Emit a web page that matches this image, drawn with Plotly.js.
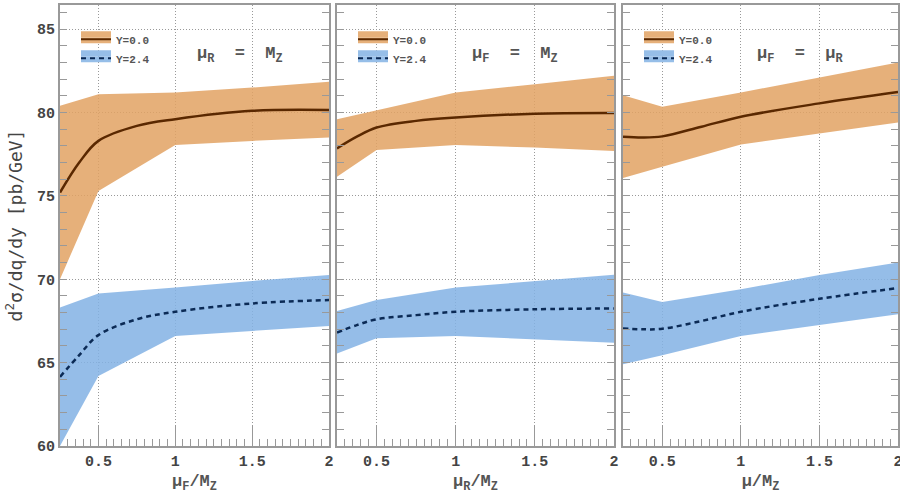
<!DOCTYPE html>
<html>
<head>
<meta charset="utf-8">
<script src="https://cdn.plot.ly/plotly-3.0.1.min.js"></script>
<style>
  html, body { margin: 0; padding: 0; background: #fff; }
  #chart { width: 900px; height: 494px; }
</style>
</head>
<body>
<div id="chart"></div>
<script>
// scale ratio nodes for the uncertainty bands and for the central curves
const bandX = [0.25, 0.5, 1, 1.5, 2]
const lineX = [0.25, 0.375, 0.5, 0.75, 1, 1.5, 2]

// panel 1: mu_R = M_Z, mu_F varied
const p1Y0Up = [80.4, 81.1, 81.2, 81.5, 81.85]
const p1Y0Lo = [70.0, 75.3, 78.05, 78.3, 78.5]
const p1Y0 = [75.2, 77.0, 78.3, 79.2, 79.6, 80.1, 80.15]
const p1Y24Up = [68.3, 69.15, 69.5, 69.9, 70.25]
const p1Y24Lo = [60.0, 64.2, 66.6, 66.9, 67.2]
const p1Y24 = [64.15, 65.45, 66.65, 67.6, 68.05, 68.55, 68.75]

// panel 2: mu_F = M_Z, mu_R varied
const p2Y0Up = [79.6, 80.13, 81.2, 81.7, 82.2]
const p2Y0Lo = [76.15, 77.75, 78.05, 77.9, 77.7]
const p2Y0 = [77.85, 78.55, 79.1, 79.5, 79.7, 79.93, 79.97]
const p2Y24Up = [68.1, 68.75, 69.5, 69.9, 70.27]
const p2Y24Lo = [65.55, 66.47, 66.6, 66.4, 66.2]
const p2Y24 = [66.8, 67.25, 67.6, 67.85, 68.05, 68.2, 68.25]

// panel 3: mu_F = mu_R varied together
const p3Y0Up = [81.03, 80.35, 81.2, 82.1, 83.0]
const p3Y0Lo = [76.08, 76.75, 78.09, 78.75, 79.4]
const p3Y0 = [78.55, 78.5, 78.57, 79.15, 79.75, 80.55, 81.23]
const p3Y24Up = [69.2, 68.63, 69.4, 70.25, 71.0]
const p3Y24Lo = [64.9, 65.45, 66.6, 67.25, 67.9]
const p3Y24 = [67.05, 67.0, 67.03, 67.5, 68.05, 68.83, 69.47]

const seriesNames = ['Y=0.0', 'Y=2.4']
const panelNotes = ['μ<sub>R</sub>  =  M<sub>Z</sub>', 'μ<sub>F</sub>  =  M<sub>Z</sub>', 'μ<sub>F</sub>  =  μ<sub>R</sub>']
const xTitles = ['μ<sub>F</sub>/M<sub>Z</sub>', 'μ<sub>R</sub>/M<sub>Z</sub>', 'μ/M<sub>Z</sub>']

const orangeFill = 'rgba(226,162,99,0.85)'
const blueFill = 'rgba(131,178,228,0.85)'
const orangeSwatch = '#e6b07a'
const blueSwatch = '#96bee8'
const brown = '#5a2800'
const navy = '#0b2a55'

const panels = [
  [p1Y0Up, p1Y0Lo, p1Y0, p1Y24Up, p1Y24Lo, p1Y24],
  [p2Y0Up, p2Y0Lo, p2Y0, p2Y24Up, p2Y24Lo, p2Y24],
  [p3Y0Up, p3Y0Lo, p3Y0, p3Y24Up, p3Y24Lo, p3Y24],
]

function band(up, lo, color, xa, ya) {
  return {
    x: bandX.concat(bandX.slice().reverse()),
    y: up.concat(lo.slice().reverse()),
    type: 'scatter', mode: 'lines', fill: 'toself',
    fillcolor: color, line: {width: 0},
    xaxis: xa, yaxis: ya, showlegend: false, hoverinfo: 'skip',
  }
}

function curve(ys, color, dash, xa, ya) {
  return {
    x: lineX, y: ys,
    type: 'scatter', mode: 'lines',
    line: {color: color, width: 2.5, dash: dash, shape: 'spline', smoothing: 1},
    xaxis: xa, yaxis: ya, showlegend: false,
  }
}

// legend entries only (no points): a band-coloured box, or the curve style
function boxSwatch(name, color, xa, ya, lg) {
  return {
    x: [null], y: [null], type: 'scatter', mode: 'lines', fill: 'toself', name: name,
    fillcolor: color, line: {width: 0},
    xaxis: xa, yaxis: ya, legend: lg, showlegend: true,
  }
}
function lineSwatch(name, color, dash, xa, ya, lg) {
  return {
    x: [null], y: [null], type: 'scatter', mode: 'lines', name: name,
    line: {color: color, width: 2, dash: dash},
    xaxis: xa, yaxis: ya, legend: lg, showlegend: true,
  }
}

const legName = k => k === 1 ? 'legend' : 'legend' + k

let data = []
panels.forEach((p, i) => {
  const xa = i === 0 ? 'x' : 'x' + (i + 1)
  const ya = i === 0 ? 'y' : 'y' + (i + 1)
  const lgLow = legName(3 * i + 1)
  const lgHigh = legName(3 * i + 2)
  const lgLine = legName(3 * i + 3)
  data.push(band(p[0], p[1], orangeFill, xa, ya))
  data.push(band(p[3], p[4], blueFill, xa, ya))
  data.push(curve(p[2], brown, 'solid', xa, ya))
  data.push(curve(p[5], navy, '5px,4px', xa, ya))
  // the legend box is two stacked fill swatches with the curve laid on top;
  // only the first layer carries the label text
  data.push(boxSwatch(seriesNames[0], orangeSwatch, xa, ya, lgLow))
  data.push(boxSwatch(seriesNames[1], blueSwatch, xa, ya, lgLow))
  data.push(boxSwatch(' ', orangeSwatch, xa, ya, lgHigh))
  data.push(boxSwatch(' ', blueSwatch, xa, ya, lgHigh))
  data.push(lineSwatch(' ', brown, 'solid', xa, ya, lgLine))
  data.push(lineSwatch(' ', navy, '5px,4px', xa, ya, lgLine))
})

const W = 838
const H = 441
const doms = [[0, 269 / W], [277 / W, 554 / W], [563 / W, 1]]
const tickFont = {family: 'Liberation Mono', size: 15, color: '#444', weight: 'bold'}

function xAxis(i) {
  return {
    domain: doms[i], range: [0.25, 2], anchor: i === 0 ? 'y' : 'y' + (i + 1),
    tick0: 0, dtick: 0.5, ticks: 'inside', ticklen: 20, tickcolor: '#999', tickwidth: 1,
    minor: {dtick: 0.05, ticks: 'inside', ticklen: 7, tickcolor: '#999', tickwidth: 1, showgrid: false},
    showline: true, linecolor: '#999', linewidth: 2, mirror: true,
    showgrid: true, gridcolor: '#999', griddash: '1px,2px', gridwidth: 1,
    zeroline: false, tickfont: tickFont, ticklabeloverflow: 'allow',
    title: {text: xTitles[i], font: {family: 'Liberation Mono', size: 17, color: '#555', weight: 'bold'}, standoff: 6},
  }
}

function yAxis(i) {
  return {
    domain: [0, 1], range: [60, 86.45], anchor: i === 0 ? 'x' : 'x' + (i + 1),
    dtick: 5, ticks: 'inside', ticklen: 7, tickcolor: '#999', tickwidth: 1,
    minor: {dtick: 1, ticks: 'inside', ticklen: 7, tickcolor: '#999', tickwidth: 1, showgrid: false},
    showline: true, linecolor: '#999', linewidth: 2, mirror: 'ticks',
    showgrid: true, gridcolor: '#999', griddash: '1px,2px', gridwidth: 1,
    zeroline: false, tickfont: tickFont, showticklabels: i === 0,
  }
}

function legendBox(i, shiftPx) {
  return {
    x: doms[i][0] + 16 / W, y: 0.955 + shiftPx / H, xanchor: 'left', yanchor: 'top',
    bgcolor: 'rgba(0,0,0,0)', borderwidth: 0,
    font: {family: 'Liberation Mono', size: 11, color: '#555', weight: 'bold'},
    tracegroupgap: 0, itemclick: false,
  }
}

let layout = {
  width: 900, height: 494,
  margin: {l: 60, r: 2, t: 5, b: 48},
  paper_bgcolor: '#fff', plot_bgcolor: '#fff',
  xaxis: xAxis(0), xaxis2: xAxis(1), xaxis3: xAxis(2),
  yaxis: Object.assign(yAxis(0), {
    title: {text: 'd<sup>2</sup>σ/dq/dy [pb/GeV]', font: {family: 'DejaVu Sans Mono', size: 18, color: '#444'}, standoff: 10},
  }),
  yaxis2: yAxis(1), yaxis3: yAxis(2),
  showlegend: true,
  annotations: panelNotes.map((t, i) => ({
    text: t, showarrow: false, xref: 'paper', yref: 'paper',
    x: [180 / W, 455 / W, 740 / W][i], y: 0.887, xanchor: 'center', yanchor: 'middle',
    font: {family: 'Liberation Mono', size: 17, color: '#555', weight: 'bold'},
  })),
}
for (let i = 0; i < 3; i++) {
  layout[legName(3 * i + 1)] = legendBox(i, 0)
  layout[legName(3 * i + 2)] = legendBox(i, 6)
  layout[legName(3 * i + 3)] = legendBox(i, 0)
}

Plotly.newPlot('chart', data, layout, {displayModeBar: false, staticPlot: true})
</script>
</body>
</html>
